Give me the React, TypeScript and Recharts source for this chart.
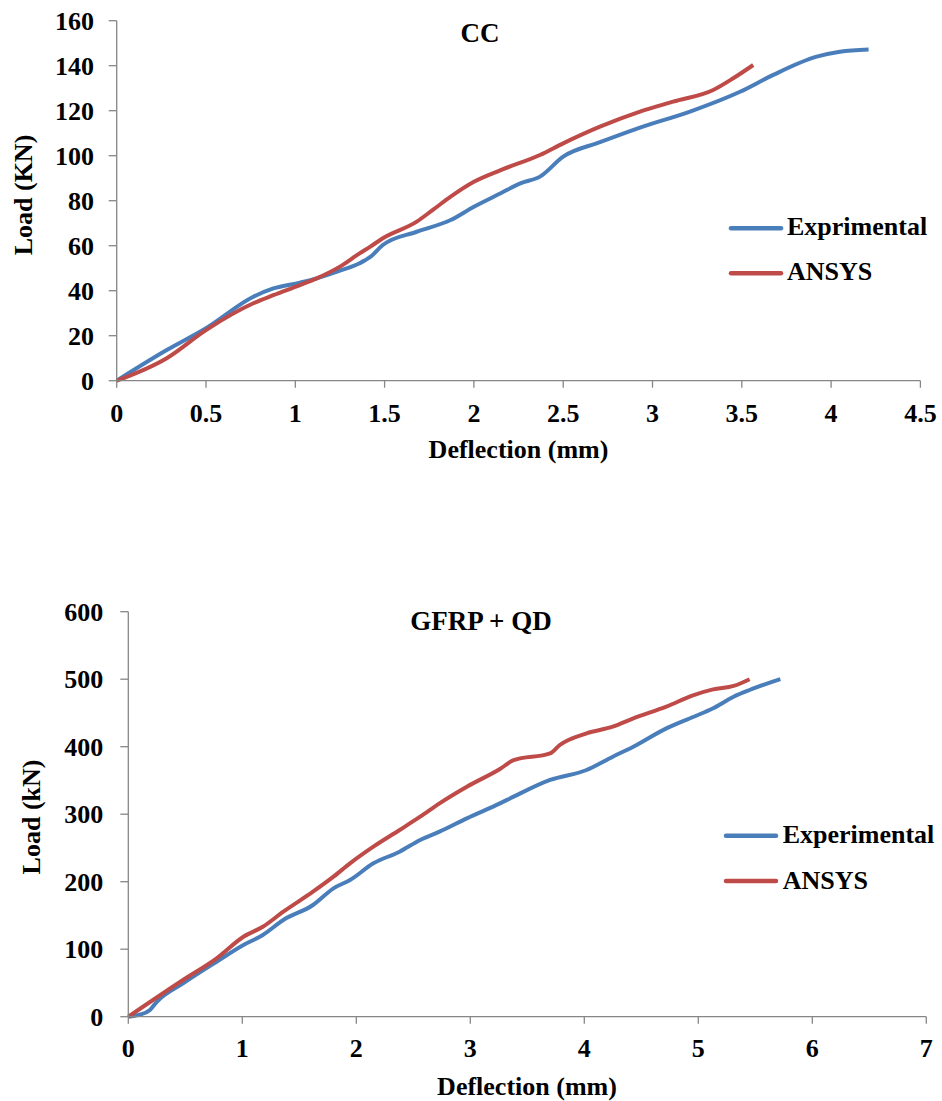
import React from 'react';
import { LineChart, Line, XAxis, YAxis } from 'recharts';

const FONT = "'Liberation Serif', 'Times New Roman', serif";
const BLUE = '#4A7EBB';
const RED = '#BE4B48';
const AXIS = '#868686';

// ---- CC panel ----
const ccExpDeflection = [0, 0.28, 0.5, 0.765, 0.877, 1.026, 1.12, 1.25, 1.36, 1.42, 1.49, 1.68, 1.87, 2.0, 2.15, 2.26, 2.37, 2.5, 2.706, 2.93, 3.21, 3.49, 3.676, 3.919, 4.049, 4.21];
const ccExpLoad = [0, 13.6, 23.3, 37.3, 41, 43.6, 45.5, 48.9, 52.2, 55, 60.3, 66.2, 71.4, 77.3, 83.3, 87.7, 90.7, 99.6, 106, 112.5, 119.6, 128.4, 135.9, 144, 146.2, 147.2];
const ccAnsysDeflection = [0, 0.28, 0.5, 0.765, 0.877, 1.026, 1.12, 1.25, 1.36, 1.42, 1.49, 1.68, 1.77, 1.87, 2.0, 2.15, 2.37, 2.5, 2.706, 2.93, 3.116, 3.34, 3.452, 3.564];
const ccAnsysLoad = [0, 10, 22.5, 34.4, 38, 42.5, 45.5, 50.7, 56.6, 59.6, 63.3, 70.7, 75.9, 81.8, 88.4, 93.6, 100.3, 105.5, 112.9, 119.6, 124, 129.2, 134.4, 140.3];
const ccXTicks = [0, 0.5, 1, 1.5, 2, 2.5, 3, 3.5, 4, 4.5];
const ccYTicks = [0, 20, 40, 60, 80, 100, 120, 140, 160];

// ---- GFRP + QD panel ----
const gfrpExpDeflection = [0, 0.1, 0.19, 0.25, 0.48, 0.775, 1.01, 1.18, 1.36, 1.62, 1.8, 1.945, 2.15, 2.38, 2.56, 2.73, 2.97, 3.26, 3.38, 3.7, 4.02, 4.25, 4.43, 4.72, 4.96, 5.13, 5.31, 5.45, 5.72];
const gfrpExpLoad = [0, 3, 10, 22, 49.4, 81.5, 106.2, 121, 143.3, 165.5, 190.2, 202.5, 227.2, 244.4, 261.8, 274.1, 293.9, 316, 326, 350.7, 365.5, 385.2, 400, 427.2, 444.4, 456.9, 474, 484, 500];
const gfrpAnsysDeflection = [0, 0.48, 0.775, 1.01, 1.18, 1.36, 1.62, 1.8, 1.945, 2.15, 2.38, 2.56, 2.73, 2.97, 3.26, 3.38, 3.7, 3.785, 4.02, 4.25, 4.43, 4.72, 4.96, 5.13, 5.31, 5.45];
const gfrpAnsysLoad = [0, 54.4, 86.5, 118.5, 133.3, 155.6, 185.2, 207.4, 227.2, 251.9, 276.6, 296.3, 316.1, 340.7, 367, 380, 390, 402.5, 419.8, 429.6, 442, 459.3, 476.5, 485, 490, 500];
const gfrpXTicks = [0, 1, 2, 3, 4, 5, 6, 7];
const gfrpYTicks = [0, 100, 200, 300, 400, 500, 600];

const toPoints = (xs: number[], ys: number[]) => xs.map((x, i) => ({ x, y: ys[i] }));

const ccExp = toPoints(ccExpDeflection, ccExpLoad);
const ccAnsys = toPoints(ccAnsysDeflection, ccAnsysLoad);
const gfrpExp = toPoints(gfrpExpDeflection, gfrpExpLoad);
const gfrpAnsys = toPoints(gfrpAnsysDeflection, gfrpAnsysLoad);

const tickStyle = { fontSize: 26, fontWeight: 700, fontFamily: FONT, fill: '#000' };
const axisLineStyle = { stroke: AXIS, strokeWidth: 1.3 };

export default function App() {
  return (
    <div style={{ position: 'absolute', left: 0, top: 0, width: 942, height: 1101, background: '#fff' }}>
      <div style={{ position: 'absolute', left: 0, top: 0 }}>
        <LineChart width={942} height={540} margin={{ top: 20.7, right: 21.6, left: 56.7, bottom: 129.3 }}>
          <XAxis
            type="number"
            dataKey="x"
            domain={[0, 4.5]}
            ticks={ccXTicks}
            interval={0}
            height={30}
            tickSize={7}
            tickMargin={16}
            axisLine={axisLineStyle}
            tickLine={axisLineStyle}
            tick={tickStyle}
          />
          <YAxis
            type="number"
            domain={[0, 160]}
            ticks={ccYTicks}
            interval={0}
            width={60}
            tickSize={8}
            tickMargin={14.7}
            axisLine={axisLineStyle}
            tickLine={axisLineStyle}
            tick={tickStyle}
          />
          <Line data={ccExp} dataKey="y" type="monotone" stroke={BLUE} strokeWidth={4} dot={false} isAnimationActive={false} />
          <Line data={ccAnsys} dataKey="y" type="monotone" stroke={RED} strokeWidth={4} dot={false} isAnimationActive={false} />
        </LineChart>
      </div>
      <div style={{ position: 'absolute', left: 0, top: 540 }}>
        <LineChart width={942} height={561} margin={{ top: 71.7, right: 15.7, left: 68.3, bottom: 54.3 }}>
          <XAxis
            type="number"
            dataKey="x"
            domain={[0, 7]}
            ticks={gfrpXTicks}
            interval={0}
            height={30}
            tickSize={7}
            tickMargin={14.5}
            axisLine={axisLineStyle}
            tickLine={axisLineStyle}
            tick={tickStyle}
          />
          <YAxis
            type="number"
            domain={[0, 600]}
            ticks={gfrpYTicks}
            interval={0}
            width={60}
            tickSize={8}
            tickMargin={17}
            axisLine={axisLineStyle}
            tickLine={axisLineStyle}
            tick={tickStyle}
          />
          <Line data={gfrpExp} dataKey="y" type="monotone" stroke={BLUE} strokeWidth={4} dot={false} isAnimationActive={false} />
          <Line data={gfrpAnsys} dataKey="y" type="monotone" stroke={RED} strokeWidth={4} dot={false} isAnimationActive={false} />
        </LineChart>
      </div>
      <svg width={942} height={1101} style={{ position: 'absolute', left: 0, top: 0, pointerEvents: 'none' }}>
        <g fill="#000" fontWeight={700} fontFamily={FONT} fontSize={26}>
          <text x={480} y={42} textAnchor="middle" fontSize={27}>CC</text>
          <text x={518.5} y={458} textAnchor="middle">Deflection (mm)</text>
          <text transform="translate(32,195) rotate(-90)" textAnchor="middle">Load (KN)</text>
          <line x1={731} y1={228.3} x2={781} y2={228.3} stroke={BLUE} strokeWidth={4.5} strokeLinecap="round" />
          <text x={787} y={235}>Exprimental</text>
          <line x1={731} y1={273.3} x2={781} y2={273.3} stroke={RED} strokeWidth={4.5} strokeLinecap="round" />
          <text x={787} y={280}>ANSYS</text>

          <text x={481} y={630} textAnchor="middle" fontSize={27}>GFRP + QD</text>
          <text x={527} y={1095} textAnchor="middle">Deflection (mm)</text>
          <text transform="translate(40,817) rotate(-90)" textAnchor="middle">Load (kN)</text>
          <line x1={726} y1={835.7} x2={776} y2={835.7} stroke={BLUE} strokeWidth={4.5} strokeLinecap="round" />
          <text x={782.7} y={843.3}>Experimental</text>
          <line x1={726} y1={881} x2={776} y2={881} stroke={RED} strokeWidth={4.5} strokeLinecap="round" />
          <text x={782.7} y={889.3}>ANSYS</text>
        </g>
      </svg>
    </div>
  );
}
